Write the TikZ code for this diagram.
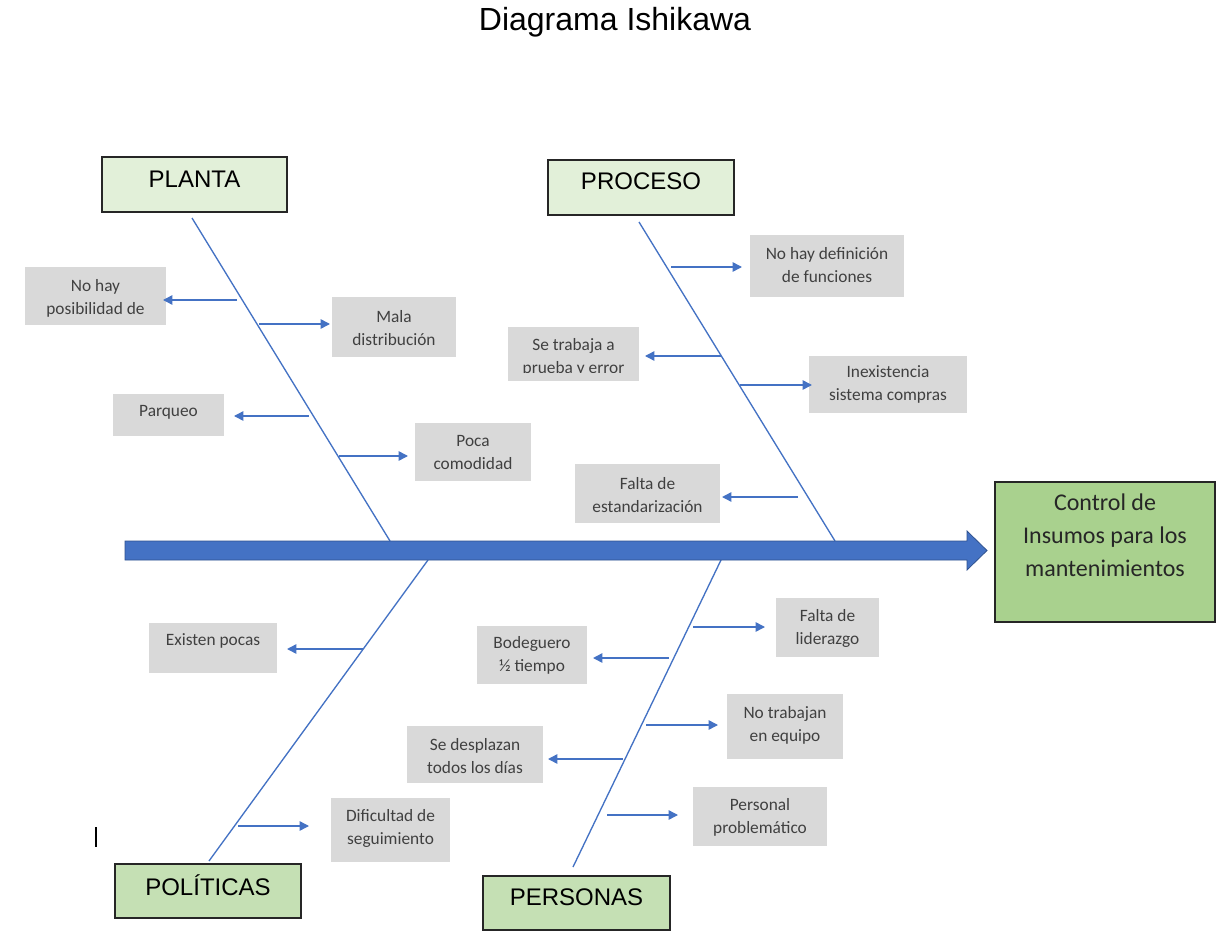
\documentclass[tikz,border=0pt]{standalone}
\usepackage{fontspec}
\setmainfont{Carlito}
\newfontfamily\arialf{Liberation Sans}
\usetikzlibrary{arrows.meta,fit}
\definecolor{bblue}{HTML}{4472C4}
\definecolor{bdark}{HTML}{2F528F}
\definecolor{boxgray}{HTML}{D9D9D9}
\definecolor{txtgray}{HTML}{404040}
\definecolor{lightgreen}{HTML}{E2F0D9}
\definecolor{midgreen}{HTML}{C5E0B4}
\definecolor{effgreen}{HTML}{A9D18E}
\definecolor{catborder}{HTML}{262626}
\tikzset{
  graybox/.style={fill=boxgray, draw=none, inner sep=0pt},
  gtext/.style={font=\fontsize{13}{17.25}\selectfont, text=txtgray, align=center, inner sep=0pt},
  catbox/.style={draw=catborder, line width=1.1pt, inner sep=0pt},
  cattext/.style={font=\arialf\fontsize{18}{22}\selectfont, text=black, inner sep=0pt},
  bone/.style={draw=bblue, line width=1pt},
  arr/.style={draw=bblue, line width=1.1pt, -{Triangle[length=7pt,width=7pt]}},
}
\begin{document}
\begin{tikzpicture}[x=0.75pt,y=-0.75pt]
\useasboundingbox[fill=white] (0,0) rectangle (1217,934);

% title
\node[font=\arialf\fontsize{24}{28}\selectfont, inner sep=0pt] (title) at (615,22) {Diagrama Ishikawa};

% category boxes
\node[catbox, fill=lightgreen, fit={(102,157)(287,212)}] (planta) {};
\node[cattext] (plantaT) at (194.5,179) {PLANTA};
\node[catbox, fill=lightgreen, fit={(548,160)(734,215)}] (proceso) {};
\node[cattext] (procesoT) at (641,181) {PROCESO};
\node[catbox, fill=midgreen, fit={(115,864)(301,918)}] (politicas) {};
\node[cattext] (politicasT) at (208,885) {POLÍTICAS};
\node[catbox, fill=midgreen, fit={(483,876)(670,930)}] (personas) {};
\node[cattext] (personasT) at (576.5,897) {PERSONAS};

% effect
\node[catbox, fill=effgreen, fit={(995,482)(1215,622)}] (effect) {};
\node[font=\fontsize{18}{24.75}\selectfont, align=center, inner sep=0pt, text=catborder] (effectT) at (1105,535) {Control de\\Insumos para los\\mantenimientos};

% bones
\coordinate (plA) at (192,218); \coordinate (plB) at (390,541);
\coordinate (prA) at (639,222); \coordinate (prB) at (835,541);
\coordinate (poA) at (209,861); \coordinate (poB) at (428,560);
\coordinate (peA) at (573,867); \coordinate (peB) at (721,560);
\draw[bone] (plA) -- (plB);
\draw[bone] (prA) -- (prB);
\draw[bone] (poA) -- (poB);
\draw[bone] (peA) -- (peB);

% spine arrow
\draw[fill=bblue, draw=bdark, line width=0.6pt] (125,541) -- (967,541) -- (967,531) -- (987,550.5) -- (967,570) -- (967,560) -- (125,560) -- cycle;

% gray boxes
\node[graybox, fit={(25,267)(166,325)}] (b1) {};
\node[gtext] (t1) at (95.5,298) {No hay\\posibilidad de};
\node[graybox, fit={(332,297)(456,357)}] (b2) {};
\node[gtext] (t2) at (394,328) {Mala\\distribución};
\node[graybox, fit={(113,394)(224,436)}] (b3) {};
\node[gtext] (t3) at (168.5,412) {Parqueo};
\node[graybox, fit={(415,423)(531,481)}] (b4) {};
\node[gtext] (t4) at (473,453) {Poca\\comodidad};
\node[graybox, fit={(750,235)(904,297)}] (b5) {};
\node[gtext] (t5) at (827,265.5) {No hay definición\\de funciones};
\node[graybox, fit={(508,327)(639,381)}] (b6) {};
\begin{scope}
\clip (508,327) rectangle (639,372);
\node[gtext] (t6) at (573.5,357.5) {Se trabaja a\\prueba y error};
\end{scope}
\node[graybox, fit={(809,356)(967,413)}] (b7) {};
\node[gtext] (t7) at (888,384.5) {Inexistencia\\sistema compras};
\node[graybox, fit={(575,464)(720,523)}] (b8) {};
\node[gtext] (t8) at (647.5,495) {Falta de\\estandarización};
\node[graybox, fit={(149,623)(277,673)}] (b9) {};
\node[gtext] (t9) at (213,641) {Existen pocas};
\node[graybox, fit={(331,798)(450,862)}] (b10) {};
\node[gtext] (t10) at (390.5,828.5) {Dificultad de\\seguimiento};
\node[graybox, fit={(776,598)(879,657)}] (b11) {};
\node[gtext] (t11) at (827.5,628.5) {Falta de\\liderazgo};
\node[graybox, fit={(477,626)(587,684)}] (b12) {};
\node[gtext] (t12) at (532,655.5) {Bodeguero\\½ tiempo};
\node[graybox, fit={(727,694)(843,759)}] (b13) {};
\node[gtext] (t13) at (785,725) {No trabajan\\en equipo};
\node[graybox, fit={(407,726)(543,783)}] (b14) {};
\node[gtext] (t14) at (475,756.5) {Se desplazan\\todos los días};
\node[graybox, fit={(693,787)(827,846)}] (b15) {};
\node[gtext] (t15) at (760,817.5) {Personal\\problemático};

% cause arrows
\coordinate (s1) at (237,300); \coordinate (e1) at (163,300);
\coordinate (s2) at (259,324); \coordinate (e2) at (330,324);
\coordinate (s3) at (309,416); \coordinate (e3) at (234,416);
\coordinate (s4) at (339,456); \coordinate (e4) at (408,456);
\coordinate (s5) at (671,267); \coordinate (e5) at (742,267);
\coordinate (s6) at (721,356); \coordinate (e6) at (645,356);
\coordinate (s7) at (740,385); \coordinate (e7) at (812,385);
\coordinate (s8) at (798,497); \coordinate (e8) at (722,497);
\coordinate (s9) at (363,649); \coordinate (e9) at (287,649);
\coordinate (s10) at (238,826); \coordinate (e10) at (309,826);
\coordinate (s11) at (693,627); \coordinate (e11) at (765,627);
\coordinate (s12) at (669,658); \coordinate (e12) at (593,658);
\coordinate (s13) at (646,725); \coordinate (e13) at (718,725);
\coordinate (s14) at (623,759); \coordinate (e14) at (548,759);
\coordinate (s15) at (607,815); \coordinate (e15) at (678,815);
\foreach \i in {1,...,15} {\draw[arr] (s\i) -- (e\i);}

% text cursor mark
\coordinate (cA) at (96,827); \coordinate (cB) at (96,847);
\draw[line width=1.2pt, black] (cA) -- (cB);
\end{tikzpicture}
\end{document}
